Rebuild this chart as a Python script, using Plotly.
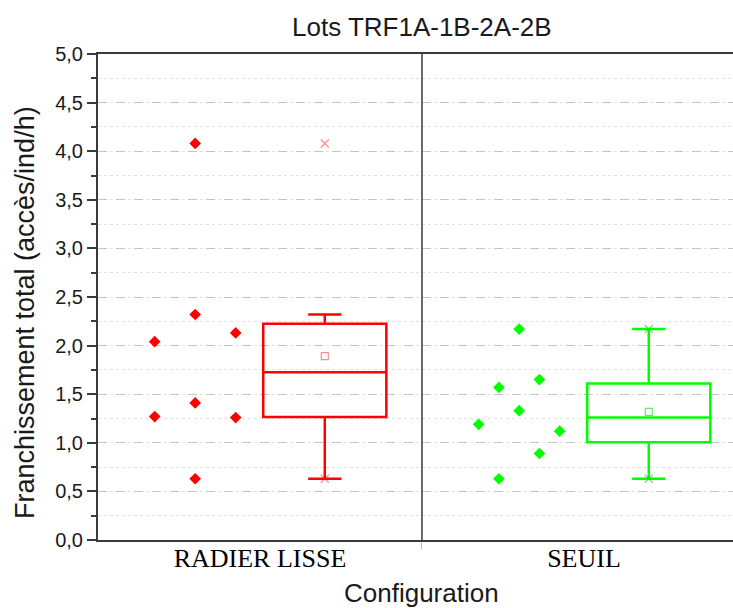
import numpy as np
import plotly.graph_objects as go

# Franchissement total (accès/ind/h) per lot, by configuration
categories = ["RADIER LISSE", "SEUIL"]
radier_lisse = [4.08, 2.32, 2.04, 2.13, 1.41, 1.27, 1.26, 0.63]
seuil = [2.17, 1.57, 1.65, 1.33, 1.19, 1.12, 0.89, 0.63]
y_ticks = [0.0, 0.5, 1.0, 1.5, 2.0, 2.5, 3.0, 3.5, 4.0, 4.5, 5.0]

series = [radier_lisse, seuil]
colors = ["#FF0000", "#00FF00"]
faint = ["rgba(255,0,0,0.45)", "rgba(0,200,0,0.55)"]

# beeswarm column index of each point (left < 0 < right)
swarm_cols = [
    [0, 0, -1, 1, 0, -1, 1, 0],
    [0, -1, 1, 0, -2, 2, 1, -1],
]

BOX_OFFSET = 0.2     # box drawn right of the category centre
SWARM_OFFSET = -0.2  # raw points drawn left of it
SWARM_HALF = 0.125
BOX_WIDTH = 0.38

fig = go.Figure()

for i, (vals, col, fcol, cols) in enumerate(zip(series, colors, faint, swarm_cols)):
    vals = np.asarray(vals, dtype=float)
    cols = np.asarray(cols, dtype=float)
    step = SWARM_HALF / max(1.0, np.abs(cols).max())

    # raw data points
    fig.add_trace(go.Scatter(
        x=i + SWARM_OFFSET + cols * step, y=vals, mode="markers",
        marker=dict(symbol="diamond", size=9, color=col),
        showlegend=False, hoverinfo="y",
    ))

    # box (Tukey hinges, whiskers limited to 1.5 IQR; outliers marked separately)
    fig.add_trace(go.Box(
        x=np.full(len(vals), i + BOX_OFFSET), y=vals,
        boxpoints="outliers", pointpos=0, jitter=0,
        marker=dict(opacity=0),
        quartilemethod="exclusive",
        width=BOX_WIDTH, whiskerwidth=0.27,
        line=dict(color=col, width=2.5),
        fillcolor="rgba(0,0,0,0)",
        showlegend=False,
    ))

    # mean
    fig.add_trace(go.Scatter(
        x=[i + BOX_OFFSET], y=[vals.mean()], mode="markers",
        marker=dict(symbol="square-open", size=7, color=fcol,
                    line=dict(color=fcol, width=1.2)),
        showlegend=False, hoverinfo="y",
    ))

    # min / max markers
    fig.add_trace(go.Scatter(
        x=[i + BOX_OFFSET] * 2, y=[vals.min(), vals.max()], mode="markers",
        marker=dict(symbol="x-thin-open", size=8, color=fcol,
                    line=dict(color=fcol, width=1.3)),
        showlegend=False, hoverinfo="y",
    ))

# separator between the two configurations
fig.add_shape(type="line", xref="x", yref="y", x0=0.5, x1=0.5, y0=0, y1=5,
              line=dict(color="#3a3a3a", width=1.5), layer="above")

fig.update_layout(
    width=733, height=608,
    margin=dict(l=98, r=0, t=54, b=68),
    paper_bgcolor="white", plot_bgcolor="white",
    separators=", ",
    font=dict(family="Liberation Sans, Arial, sans-serif", color="#1a1a1a"),
    annotations=[
        dict(text="Lots TRF1A-1B-2A-2B", xref="x", yref="paper", x=0.5, y=1,
             yshift=27, xanchor="center", yanchor="middle", showarrow=False,
             font=dict(size=26, family="Liberation Sans, Arial, sans-serif", color="#1a1a1a")),
        dict(text="Configuration", xref="x", yref="paper", x=0.5, y=0,
             yshift=-53, xanchor="center", yanchor="middle", showarrow=False,
             font=dict(size=26, family="Liberation Sans, Arial, sans-serif", color="#1a1a1a")),
        dict(text="Franchissement total (accès/ind/h)", xref="paper", yref="paper",
             x=0, xshift=-73, y=0.467, xanchor="center", yanchor="middle",
             textangle=-90, showarrow=False,
             font=dict(size=27, family="Liberation Sans, Arial, sans-serif", color="#1a1a1a")),
    ],
)

fig.update_xaxes(
    range=[-0.5, 1.46], tickmode="array", tickvals=[0, 1], ticktext=categories,
    ticks="", showgrid=False, zeroline=False,
    showline=True, linecolor="#3a3a3a", linewidth=2, mirror=True,
    tickfont=dict(family="Liberation Serif, Times New Roman, serif", size=26, color="black"),
    ticklabelstandoff=-6,
    minor=dict(tickmode="array", tickvals=[0.5], ticks="outside", ticklen=7,
               tickcolor="#bbbbbb", tickwidth=1),
)

fig.update_yaxes(
    range=[0, 5], tickmode="array", tickvals=y_ticks, tickformat=".1f",
    ticks="outside", ticklen=9, tickwidth=2, tickcolor="#3a3a3a",
    showline=True, linecolor="#3a3a3a", linewidth=2, mirror=False,
    zeroline=False,
    showgrid=True, gridcolor="#c4c4c4", gridwidth=1.3, griddash="dash",
    tickfont=dict(size=20, color="#1a1a1a"),
    minor=dict(dtick=0.25, tick0=0, ticks="outside", ticklen=5, tickwidth=2,
               tickcolor="#3a3a3a", showgrid=True, gridcolor="#e2e2e2",
               gridwidth=1, griddash="dot"),
)

fig.write_html("out.html")
